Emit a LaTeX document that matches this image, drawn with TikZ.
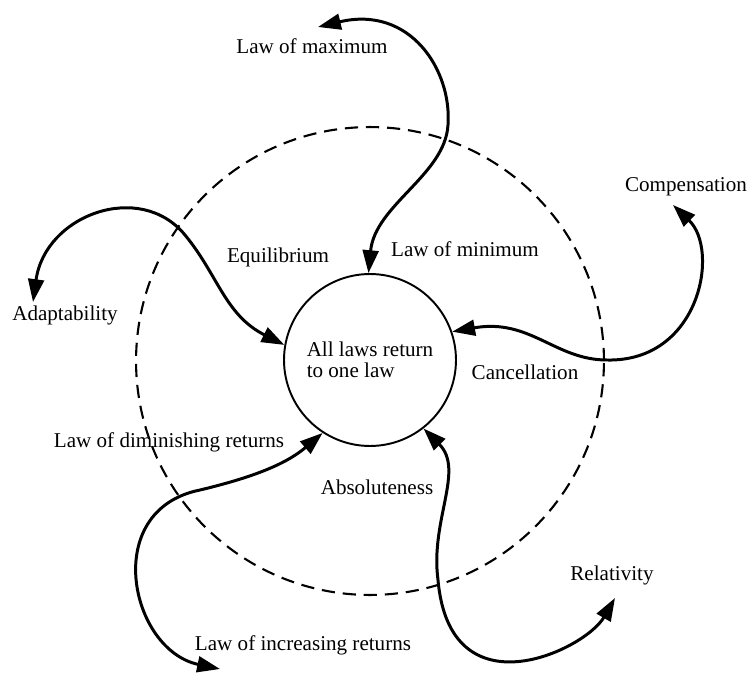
\documentclass[tikz,border=0pt]{standalone}
\usepackage{fontspec}
\setmainfont{Liberation Serif}
\usetikzlibrary{arrows.meta}

\begin{document}
\begin{tikzpicture}[x=0.02cm,y=-0.02cm,
  lawlabel/.style={font=\fontsize{12}{12}\selectfont, inner sep=1pt},
  core/.style={draw, circle, line width=1.1pt, minimum size=3.44cm, inner sep=0pt,
    align=left, font=\fontsize{12}{12}\selectfont},
  field/.style={draw, circle, dash pattern=on 7.5pt off 4.5pt, line width=1.2pt, minimum size=9.36cm},
  twoway/.style={{Triangle[length=13pt,width=9pt]}-{Triangle[length=13pt,width=9pt]}, line width=1.7pt}]
\useasboundingbox (0,0) rectangle (748,673);

% Outer dashed circle and the central circle
\node[field] (field) at (370,361) {};
\node[core] (core) at (370,360) {All laws return\\to one law};

% Labels
\node[lawlabel] (maximum) at (312,46) {Law of maximum};
\node[lawlabel] (minimum) at (465,249) {Law of minimum};
\node[lawlabel] (equilibrium) at (278,257) {Equilibrium};
\node[lawlabel, anchor=west] (compensation) at (623,187) {Compensation};
\node[lawlabel] (adaptability) at (65,315) {Adaptability};
\node[lawlabel] (cancellation) at (525,372) {Cancellation};
\node[lawlabel] (diminishing) at (169,442) {Law of diminishing returns};
\node[lawlabel] (absoluteness) at (377,487) {Absoluteness};
\node[lawlabel] (relativity) at (612,575) {Relativity};
\node[lawlabel] (increasing) at (303,645) {Law of increasing returns};

% Free ends of the arrows
\coordinate (maxtip) at (318,27);
\coordinate (adapttip) at (33,302);
\coordinate (comptip) at (673,205);
\coordinate (incrtip) at (220,669);
\coordinate (relattip) at (615,598);

% Maximum -- minimum
\draw[twoway] (maxtip) .. controls (410,5) and (452,70) .. (448,125)
  .. controls (445,175) and (375,205) .. (core.91);

% Adaptability -- equilibrium
\draw[twoway] (adapttip) .. controls (45,215) and (140,180) .. (185,235)
  .. controls (218,275) and (225,315) .. (core.170);

% Compensation -- cancellation
\draw[twoway] (comptip) .. controls (720,250) and (700,362) .. (607,360)
  .. controls (555,360) and (530,318) .. (core.19);

% Increasing -- diminishing returns
\draw[twoway] (incrtip) .. controls (130,650) and (100,510) .. (200,490)
  .. controls (250,478) and (285,465) .. (core.237);

% Relativity -- absoluteness
\draw[twoway] (relattip) .. controls (585,650) and (450,715) .. (438,580)
  .. controls (430,520) and (465,470) .. (core.308);

\end{tikzpicture}
\end{document}
